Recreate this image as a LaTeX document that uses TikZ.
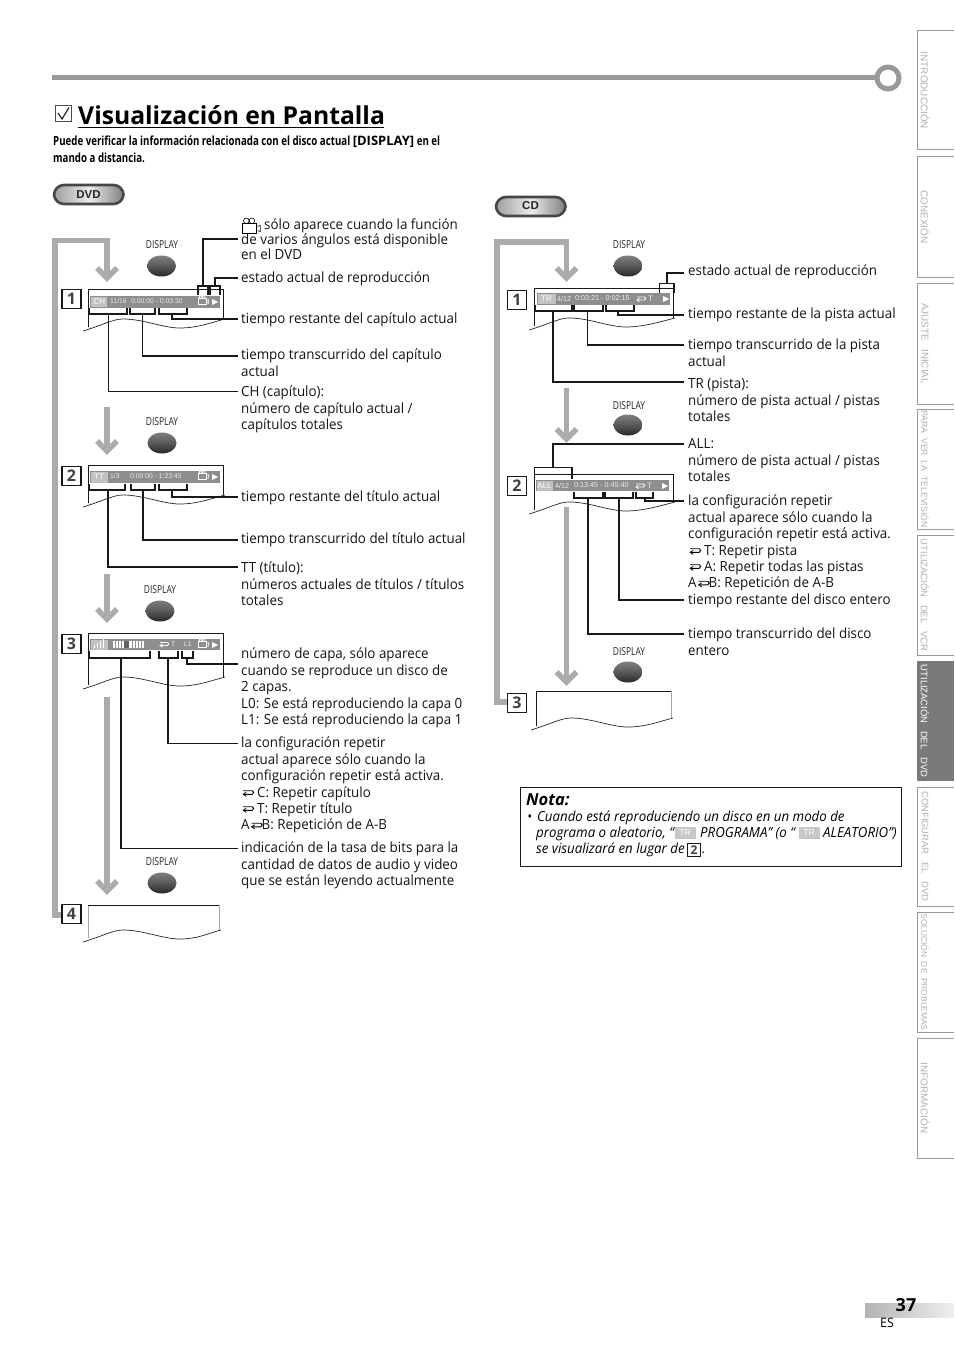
\documentclass[tikz,border=0pt]{standalone}
\usepackage{fontspec}
\setmainfont{Open Sans}[FakeStretch=0.955]
\newfontfamily\arialf{Liberation Sans}
\newfontfamily\headf{Open Sans}[FakeStretch=1.0]
\newfontfamily\subf{Open Sans}[FakeStretch=0.77]
\newcommand{\fl}{\rule{0pt}{11pt}}
\definecolor{garrow}{HTML}{ABABAB}
\definecolor{osdbar}{HTML}{8E8E8E}
\definecolor{osdtxt}{HTML}{EDEDED}
\definecolor{tabline}{HTML}{999999}
\definecolor{tabtxt}{HTML}{B0B0B0}
\tikzset{
  x=1pt,y=-1pt,
  lbltxt/.style={anchor=north west,inner sep=0pt,align=left,font=\fontsize{14}{16.45}\selectfont,text=black!92},
  lblnar/.style={lbltxt,font=\fontsize{14}{15}\selectfont},
  lead/.style={draw=black!90,line width=1.9pt},
  leadthin/.style={draw=black!90,line width=1.1pt},
  brk/.style={draw=black!90,line width=1.9pt},
  garr/.style={draw=garrow,line width=5.5pt,miter limit=10},
  numbox/.style={draw=black!90,line width=1.2pt,fill=white,inner sep=0pt,minimum width=19pt,minimum height=19pt,font=\headf\fontsize{16}{16}\selectfont\bfseries,text=black!75},
  disptxt/.style={inner sep=0pt,font=\subf\fontsize{11}{11}\selectfont,text=black!85},
  osd/.style={inner sep=0pt,anchor=west,font=\arialf\fontsize{6.8}{7}\selectfont,text=osdtxt},
  hilite/.style={fill=black!24,draw=none},
  tablbl/.style={rotate=-90,inner sep=0pt,font=\arialf\fontsize{9.9}{10}\selectfont,text=tabtxt},
  pill/.style={rounded corners=10pt,left color=black!38,right color=black!50,middle color=black!8,draw=black!72,line width=2.6pt},
  pilltxt/.style={inner sep=0pt,font=\arialf\bfseries\fontsize{11.5}{12}\selectfont,text=black!85},
  repsym/.pic={\draw[#1,line width=.9pt] (-4,-1.5) -- (3.5,-1.5) .. controls (5.2,-1.5) and (5.2,1.5) .. (3.5,1.5) -- (-4,1.5);
    \draw[#1,line width=.8pt] (-1.5,-.2) -- (-4,1.5) -- (-1.5,3.2);},
  cam/.pic={\draw[#1,line width=.6pt] (-6,-1) rectangle (4,6);
    \draw[#1,line width=.6pt] (-3,-3) circle[radius=2pt] (1,-3) circle[radius=2pt];
    \draw[#1,line width=.6pt] (5,1) -- (7,.3) -- (7,4.7) -- (5,4);},
}
% x y: top left, w, depth
\newcommand{\panelbox}[5]{%
  \draw[draw=#5,line width=1pt] (#1,{#2+#4+8}) -- (#1,#2);
  \draw[draw=black!90,line width=1pt] (#1,#2) -- ({#1+#3},#2);
  \draw[draw=#5,line width=1pt] ({#1+#3},#2) -- ({#1+#3},{#2+#4});
  \draw[draw=black!85,line width=.7pt] ({#1-5},{#2+#4+12}) .. controls ({#1+15},{#2+#4+6}) and ({#1+25},{#2+#4}) .. ({#1+35},{#2+#4})
     .. controls ({#1+55},{#2+#4}) and ({#1+75},{#2+#4+9}) .. ({#1+92},{#2+#4+9})
     .. controls ({#1+110},{#2+#4+9}) and ({#1+#3-10},{#2+#4+3}) .. ({#1+#3+2},{#2+#4});
}
% gray arrow: x, y start, y tip
\newcommand{\garrowv}[3]{%
  \draw[garr] (#1,#2) -- (#1,{#3-5});
  \draw[garr] ({#1-10},{#3-14}) -- (#1,{#3-4}) -- ({#1+10},{#3-14});
}
% display button: name, text x, text y, button cx, button cy
\newcommand{\dispbtn}[5]{%
  \node[disptxt] (#1t) at (#2,#3) {DISPLAY};
  \shade[top color=black!50,bottom color=black!85,middle color=black!65] (#4,#5) ellipse[x radius=14.5pt,y radius=10.5pt];
}
\newcommand{\brkt}[4]{\draw[brk] (#1,#3) -- (#1,#4) -- (#2,#4) -- (#2,#3);}
\begin{document}
\begin{tikzpicture}
\useasboundingbox (0,0) rectangle (954,1348);
\fill[white] (0,0) rectangle (954,1348);

% ---- side tabs
\foreach \yt/\yb/\nm/\tx in {
  31/150/ta/{INTRODUCCIÓN},157/277/tb/{CONEXIÓN},283/404/tc/{AJUSTE\ \ \ INICIAL},
  409/529/td/{\fontsize{8.7}{9}\selectfont PARA\ \ VER\ \ LA\ \ TELEVISIÓN},535/655/te/{\fontsize{9.4}{10}\selectfont UTILIZACIÓN\ \ \ DEL\ \ \ VCR},
  787/906/tg/{\fontsize{9.4}{10}\selectfont CONFIGURAR\ \ \ EL\ \ \ DVD},912/1032/th/{\fontsize{8.4}{9}\selectfont SOLUCIÓN\ \ DE\ \ PROBLEMAS},1038/1158/ti/{INFORMACIÓN}}{
  \draw[tabline,line width=1pt] (954,\yt) -- (917.5,\yt) -- (917.5,\yb) -- (954,\yb);
  \node[tablbl] (\nm) at (925,{(\yt+\yb)/2}) {\tx};
}
\fill[black!52] (917,661) rectangle (954,781);
\node[tablbl,text=white,font=\arialf\fontsize{9.4}{10}\selectfont] (tf) at (925,721) {UTILIZACIÓN\ \ \ DEL\ \ \ DVD};

% ---- top rule
\coordinate (ruleL) at (52,77.5);
\coordinate (ruleR) at (876,77.5);
\draw[draw=black!40,line width=5.5pt] (ruleL) -- (ruleR);
\draw[draw=black!40,line width=5pt] (888,78) circle[radius=11pt];

% ---- heading
\draw[draw=black!70,line width=1pt] (55.5,105.5) rectangle (71.5,122);
\draw[draw=black!85,line width=1.2pt] (58,113) -- (62,119) -- (69,107.5);
\node[anchor=base west,inner sep=0pt,font=\headf\bfseries\fontsize{24.7}{26}\selectfont] (title) at (78,124.5) {Visualización en Pantalla};
\draw[line width=1pt] (78,127.5) -- (384,127.5);
\node[anchor=base west,inner sep=0pt,font=\subf\bfseries\fontsize{12.6}{13}\selectfont] (sub1) at (53,146) {Puede verificar la información relacionada con el disco actual {\headf\fontsize{13}{13}\selectfont [DISPLAY]} en el};
\node[anchor=base west,inner sep=0pt,font=\subf\bfseries\fontsize{12.6}{13}\selectfont] (sub2) at (53,163) {mando a distancia.};

% ---- pills
\path[pill] (54,185) rectangle (123.5,204);
\node[pilltxt] (dvdp) at (88.5,194.5) {DVD};
\path[pill] (496,197) rectangle (565.5,216);
\node[pilltxt] (cdp) at (530.5,206) {CD};

% ---- gray arrows DVD
\draw[garr] (63,915) -- (55,915) -- (55,240.5) -- (107,240.5) -- (107,277);
\draw[garr] (97,268) -- (107,278) -- (117,268);
\garrowv{107}{407}{455}
\garrowv{107}{574}{623}
\garrowv{107}{697}{895}

% ---- gray arrows CD
\draw[garr] (507,702) -- (497,702) -- (497,242) -- (566.5,242) -- (566.5,277);
\draw[garr] (556.5,268) -- (566.5,278) -- (576.5,268);
\garrowv{566.5}{388}{443}
\garrowv{566.5}{507}{686}

% ---- display buttons
\dispbtn{d1}{162}{245}{161.5}{266}
\dispbtn{d2}{162}{422}{162}{443}
\dispbtn{d3}{160}{590}{160}{611}
\dispbtn{d4}{162}{862}{162}{883}
\dispbtn{c1}{629}{245}{628}{266}
\dispbtn{c2}{629}{406}{628}{425}
\dispbtn{c3}{629}{652}{628}{672}

% ---- number boxes
\node[numbox] (n1) at (71.5,299) {1};
\node[numbox] (n2) at (71.5,476) {2};
\node[numbox] (n3) at (71.5,644) {3};
\node[numbox] (n4) at (71.5,914) {4};
\node[numbox] (m1) at (517,300) {1};
\node[numbox] (m2) at (517,486) {2};
\node[numbox] (m3) at (517,703) {3};

% ---- DVD panel 1
\panelbox{88}{289}{135}{30}{black!90}
\fill[osdbar] (90,296) rectangle (220,307.5);
\fill[hilite] (91,296.5) rectangle (107,307);
\node[osd,font=\arialf\fontsize{8}{8}\selectfont,text=white] (o1a) at (93.5,302) {CH};
\node[osd] (o1b) at (110,301) {11/16};
\node[osd] (o1c) at (131,301) {0:00:00 - 0:03:30};
\pic[scale=.8] at (203,299.5) {cam=white};
\fill[white] (212,299) -- (218,302) -- (212,305) -- cycle;
\brkt{89}{127}{308}{314}
\brkt{130}{155}{308}{314}
\brkt{159}{187}{308}{314}
\draw[brk] (198,295) -- (198,286) -- (208,286) -- (208,295);
\draw[brk] (210,295) -- (210,286) -- (220,286) -- (220,295);

% ---- DVD panel 2
\panelbox{88}{465}{135}{30}{black!90}
\fill[osdbar] (90,471) rectangle (220,483);
\fill[hilite] (91,471.5) rectangle (108,482.5);
\node[osd,font=\arialf\fontsize{8}{8}\selectfont,text=white] (o2a) at (94,477) {TT};
\node[osd] (o2b) at (110,476.5) {1/3};
\node[osd] (o2c) at (130,476.5) {0:00:00 - 1:23:45};
\pic[scale=.8] at (203,474.5) {cam=white};
\fill[white] (212,474) -- (218,477) -- (212,480) -- cycle;
\brkt{89}{125}{484}{490}
\brkt{131}{155}{484}{490}
\brkt{159}{187}{484}{490}

% ---- DVD panel 3
\panelbox{88}{633}{135}{44}{black!90}
\fill[osdbar] (90,639) rectangle (220,650);
\fill[hilite] (91,639.5) rectangle (108,649.5);
\foreach \bx/\bh in {94/3,97/5,100/7,103/9}{\fill[white] (\bx,648) rectangle ++(1.4,-\bh);}
\foreach \bx in {113,116,119,122,125.5,128,130,133,136,139,142}{\fill[white] (\bx,641) rectangle ++(1.8,7);}
\fill[osdbar!70!black] (124,641) rectangle (129,648);
\pic at (164,644) {repsym=white};
\node[osd] (o3a) at (171,644.5) {T};
\node[osd] (o3b) at (184,644.5) {L1};
\pic[scale=.8] at (203,642.5) {cam=white};
\fill[white] (212,642) -- (218,645) -- (212,648) -- cycle;
\brkt{89}{150}{651}{658}
\brkt{159}{178}{651}{658}
\brkt{182}{193}{651}{658}

% ---- DVD panel 4
\panelbox{88}{905}{131}{25}{black!35}

% ---- CD panel 1
\panelbox{534}{288}{139}{30}{black!90}
\fill[osdbar] (537,293) rectangle (670,304.5);
\fill[hilite] (538,293.5) rectangle (556,304);
\node[osd,font=\arialf\fontsize{8}{8}\selectfont,text=white] (p1a) at (541,299) {TR};
\node[osd,font=\arialf\fontsize{7.2}{7}\selectfont] (p1b) at (557,298.5) {4/12};
\node[osd,font=\arialf\fontsize{7.2}{7}\selectfont] (p1c) at (575,298.5) {0:03:21 - 0:02:15};
\pic at (641,298.5) {repsym=white};
\node[osd,font=\arialf\fontsize{8}{8}\selectfont] (p1d) at (648,298.5) {T};
\fill[white] (663,296) -- (669,299) -- (663,302) -- cycle;
\brkt{535}{572}{305}{311}
\brkt{574}{603}{305}{311}
\brkt{606}{634}{305}{311}
\draw[brk] (659.5,293) -- (659.5,283.5) -- (674,283.5) -- (674,293);

% ---- CD panel 2
\panelbox{534}{474}{139}{28}{black!90}
\fill[osdbar] (536,480) rectangle (669,491);
\fill[hilite] (537,480.5) rectangle (553,490.5);
\node[osd,font=\arialf\fontsize{7.6}{8}\selectfont,text=white] (p2a) at (537.5,486) {ALL};
\node[osd,font=\arialf\fontsize{7.2}{7}\selectfont] (p2b) at (555,485.5) {4/12};
\node[osd,font=\arialf\fontsize{7.2}{7}\selectfont] (p2c) at (574,485.5) {0:13:45 - 0:45:40};
\pic at (640,485.5) {repsym=white};
\node[osd,font=\arialf\fontsize{8}{8}\selectfont] (p2d) at (647,485.5) {T};
\fill[white] (662,483) -- (668,486) -- (662,489) -- cycle;
\brkt{574}{603}{491.5}{498}
\brkt{605}{633}{491.5}{498}
\brkt{636}{653}{491.5}{498}
\draw[brk] (534.5,479) -- (534.5,467.5) -- (572,467.5) -- (572,479);

% ---- CD panel 3
\panelbox{536}{691}{135}{27}{black!90}
\draw[draw=black!35,line width=1pt] (671,691) -- (671,718);

% ---- labels DVD
\pic[scale=1.4] at (250.5,225) {cam=black};
\node[lblnar] (la) at (241,{224-5.5}) {\fl\hspace{23pt}sólo aparece cuando la función\\de varios ángulos está disponible\\en el DVD};
\node[lbltxt] (lb) at (241,{277-5.5}) {\fl estado actual de reproducción};
\node[lbltxt] (lc) at (241,{318-5.5}) {\fl tiempo restante del capítulo actual};
\node[lbltxt] (ld) at (241,{354-5.5}) {\fl tiempo transcurrido del capítulo\\actual};
\node[lbltxt] (le) at (241,{391-5.5}) {\fl CH (capítulo):\\número de capítulo actual /\\capítulos totales};
\node[lbltxt] (lf) at (241,{496-5.5}) {\fl tiempo restante del título actual};
\node[lbltxt] (lg) at (241,{538-5.5}) {\fl tiempo transcurrido del título actual};
\node[lbltxt] (lh) at (241,{567-5.5}) {\fl TT (título):\\números actuales de títulos / títulos\\totales};
\node[lbltxt] (li) at (241,{653-5.5}) {\fl número de capa, sólo aparece\\cuando se reproduce un disco de\\2 capas.\\L0: Se está reproduciendo la capa 0\\L1: Se está reproduciendo la capa 1};
\node[lbltxt] (lj) at (241,{742-5.5}) {\fl la configuración repetir\\actual aparece sólo cuando la\\configuración repetir está activa.\\\hspace{12.5pt} C: Repetir capítulo\\\hspace{12.5pt} T: Repetir título\\A\hspace{12pt}B: Repetición de A-B};
\pic[scale=1.2] at (248,792.5) {repsym=black};
\pic[scale=1.2] at (248,808.5) {repsym=black};
\pic[scale=1.2] at (256.5,825) {repsym=black};
\node[lbltxt] (lk) at (241,{847-5.5}) {\fl indicación de la tasa de bits para la\\cantidad de datos de audio y video\\que se están leyendo actualmente};

% ---- labels CD
\node[lbltxt] (ra) at (688,{270-5.5}) {\fl estado actual de reproducción};
\node[lbltxt] (rb) at (688,{313-5.5}) {\fl tiempo restante de la pista actual};
\node[lbltxt] (rc) at (688,{344-5.5}) {\fl tiempo transcurrido de la pista\\actual};
\node[lbltxt] (rd) at (688,{383-5.5}) {\fl TR (pista):\\número de pista actual / pistas\\totales};
\node[lbltxt] (re) at (688,{443-5.5}) {\fl ALL:\\número de pista actual / pistas\\totales};
\node[lbltxt] (rf) at (688,{500-5.5}) {\fl la configuración repetir\\actual aparece sólo cuando la\\configuración repetir está activa.\\\hspace{12.5pt} T: Repetir pista\\\hspace{12.5pt} A: Repetir todas las pistas\\A\hspace{12pt}B: Repetición de A-B\\tiempo restante del disco entero};
\pic[scale=1.2] at (695,550.5) {repsym=black};
\pic[scale=1.2] at (695,566.5) {repsym=black};
\pic[scale=1.2] at (703.5,583) {repsym=black};
\node[lbltxt] (rg) at (688,{633-5.5}) {\fl tiempo transcurrido del disco\\entero};

% ---- connectors DVD
\coordinate (aa) at (203,286); \coordinate (ta) at (238,239);
\draw[lead] (aa) |- (ta);
\coordinate (ab) at (215,286); \coordinate (tb) at (238,278);
\draw[lead] (ab) |- (tb);
\coordinate (ac) at (172,314); \coordinate (tc) at (238,319);
\draw[lead] (ac) |- (tc);
\coordinate (ad) at (142.5,314); \coordinate (td) at (238,356);
\draw[lead] (ad) |- (td);
\coordinate (ae) at (108.5,314); \coordinate (te) at (238,391.5);
\draw[leadthin] (ae) |- (te);
\coordinate (af) at (172,490); \coordinate (tf) at (238,497);
\draw[lead] (af) |- (tf);
\coordinate (ag) at (143,490); \coordinate (tg) at (238,540);
\draw[lead] (ag) |- (tg);
\coordinate (ah) at (108,490); \coordinate (th) at (238,567);
\draw[leadthin] (ah) |- (th);
\coordinate (ai) at (187,658); \coordinate (ti) at (238,664);
\draw[lead] (ai) |- (ti);
\coordinate (aj) at (168,658); \coordinate (tj) at (238,743.5);
\draw[lead] (aj) |- (tj);
\coordinate (ak) at (121,658); \coordinate (tk) at (238,848.5);
\draw[leadthin] (ak) |- (tk);

% ---- connectors CD
\coordinate (ba) at (667,283.5); \coordinate (sa) at (684,273);
\draw[lead] (ba) |- (sa);
\coordinate (bb) at (618,311); \coordinate (sb) at (684,315);
\draw[leadthin] (bb) |- (sb);
\coordinate (bc) at (587.5,311); \coordinate (sc) at (684,345);
\draw[lead] (bc) |- (sc);
\coordinate (bd) at (553,311); \coordinate (sd) at (684,382);
\draw[leadthin] (bd) |- (sd);
\coordinate (be) at (553,467.5); \coordinate (se) at (684,444);
\draw[lead] (be) |- (se);
\coordinate (bf) at (645,498); \coordinate (sf) at (684,501);
\draw[leadthin] (bf) |- (sf);
\coordinate (bg) at (619,498); \coordinate (sg) at (684,600);
\draw[lead] (bg) |- (sg);
\coordinate (bh) at (588,498); \coordinate (sh) at (684,634);
\draw[lead] (bh) |- (sh);

% ---- nota
\draw[draw=black!90,line width=1pt] (520.5,787.5) rectangle (901.5,866);
\node[anchor=base west,inner sep=0pt,font=\headf\bfseries\itshape\fontsize{16.5}{17}\selectfont] (nt) at (526,805) {Nota:};
\node[anchor=base west,inner sep=0pt,font=\itshape\fontsize{13.9}{14}\selectfont] (n1t) at (527,821) {•\hspace{5pt}Cuando está reproduciendo un disco en un modo de};
\node[anchor=base west,inner sep=0pt,font=\itshape\fontsize{13.9}{14}\selectfont] (n2a) at (536,837) {programa o aleatorio, “};
\node[anchor=base west,inner sep=0pt,font=\itshape\fontsize{13.9}{14}\selectfont] (n2b) at (700,837) {PROGRAMA” (o “};
\node[anchor=base west,inner sep=0pt,font=\itshape\fontsize{13.9}{14}\selectfont] (n2c) at (823,837) {ALEATORIO”)};
\node[anchor=base west,inner sep=0pt,font=\itshape\fontsize{13.9}{14}\selectfont] (n3t) at (536,853) {se visualizará en lugar de};
\node[anchor=base west,inner sep=0pt,font=\itshape\fontsize{13.9}{14}\selectfont] (n3d) at (702,853) {.};
\node[fill=black!22,inner sep=0pt,minimum width=21pt,minimum height=12pt,font=\arialf\fontsize{8.5}{9}\selectfont,text=white] (tr1) at (685,833) {TR};
\node[fill=black!22,inner sep=0pt,minimum width=21pt,minimum height=12pt,font=\arialf\fontsize{8.5}{9}\selectfont,text=white] (tr2) at (809,833) {TR};
\node[draw=black!90,line width=1pt,inner sep=0pt,minimum width=13pt,minimum height=13pt,font=\headf\fontsize{12}{12}\selectfont\bfseries,text=black!75] (two) at (694,850) {2};

% ---- footer
\shade[left color=black!30,right color=black!6] (865,1303) rectangle (954,1317);
\node[inner sep=0pt,font=\headf\bfseries\fontsize{18}{18}\selectfont] (pg) at (906,1305.5) {37};
\node[inner sep=0pt,font=\fontsize{13}{13}\selectfont] (es) at (887,1323) {ES};
\end{tikzpicture}
\end{document}
